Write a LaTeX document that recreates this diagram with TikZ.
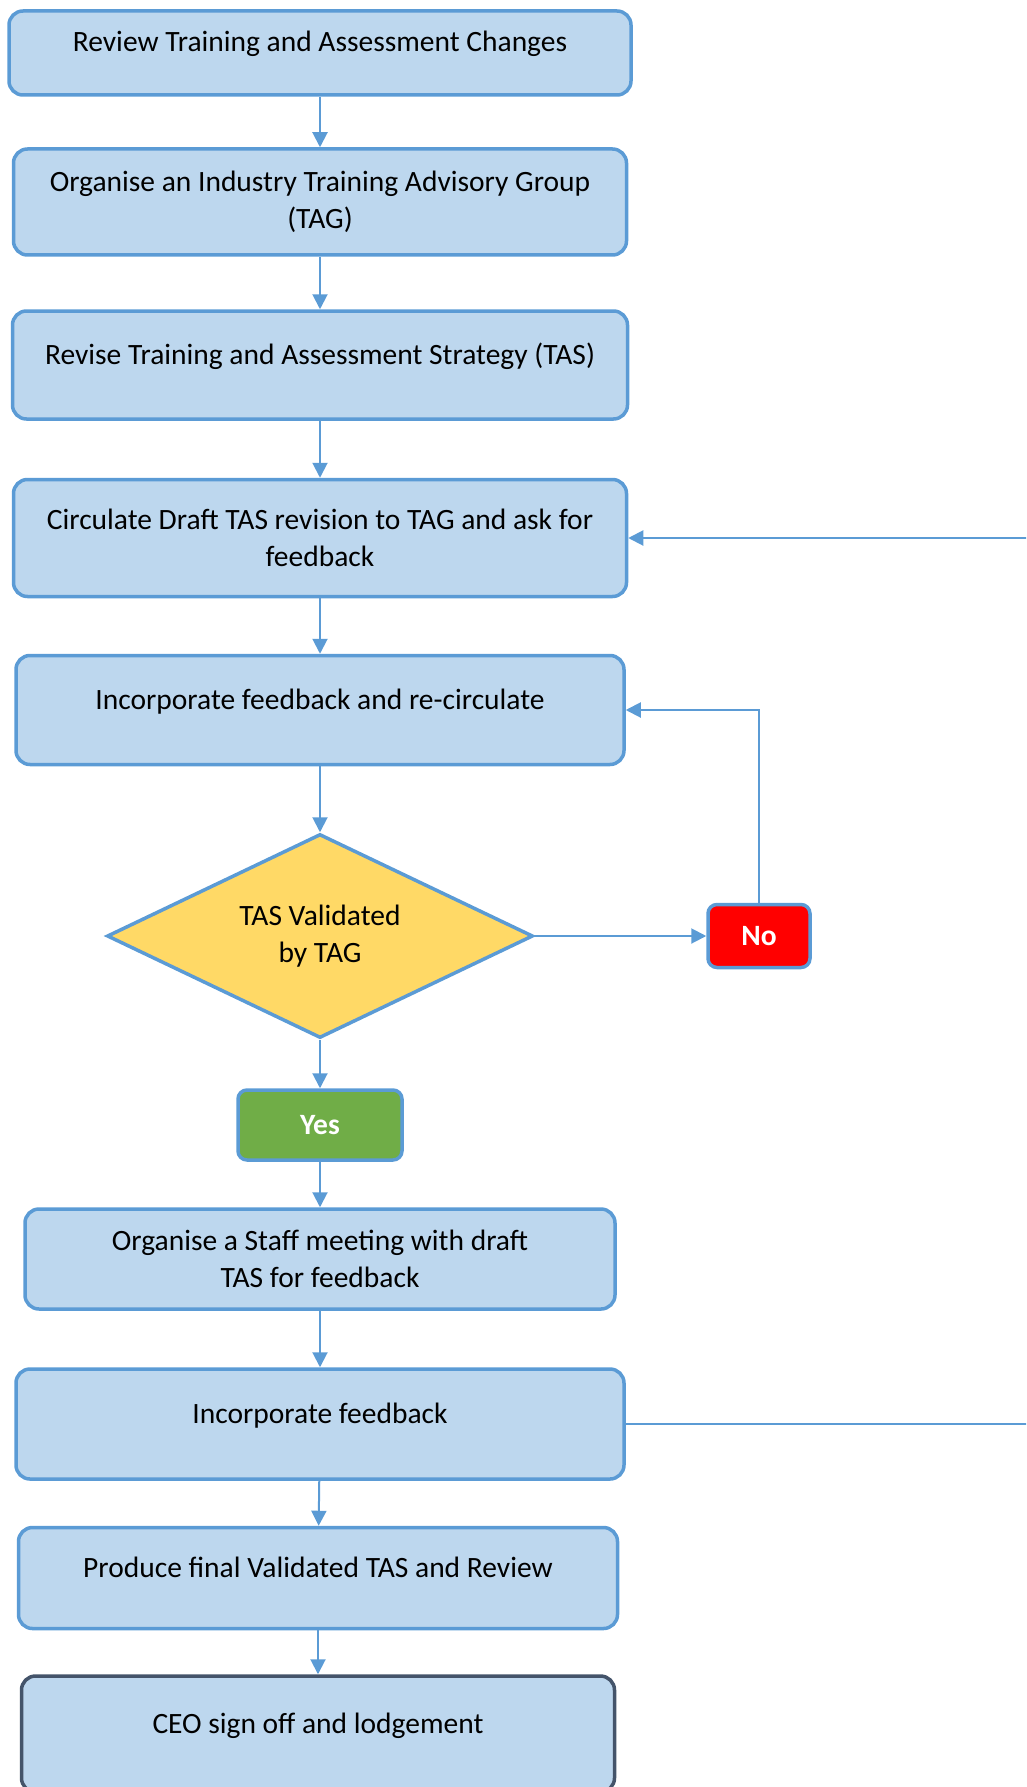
\documentclass[tikz,border=0pt]{standalone}
\usepackage{fontspec}
\setmainfont{Carlito}
\usetikzlibrary{arrows.meta,shapes.geometric}
\definecolor{boxfill}{HTML}{BDD7EE}
\definecolor{boxline}{HTML}{5B9BD5}
\definecolor{decfill}{HTML}{FFD966}
\definecolor{nofill}{HTML}{FF0000}
\definecolor{yesfill}{HTML}{70AD47}
\definecolor{endline}{HTML}{44546A}
\begin{document}
\begin{tikzpicture}[x=1pt,y=-1pt,
  txt/.style={font=\fontsize{29.5}{37}\selectfont},
  box/.style={txt, draw=boxline, fill=boxfill, line width=3.5pt,
    rounded corners=14pt, align=center, inner sep=0pt},
  oneline/.style={text height=22pt, text depth=24pt},
  decision/.style={txt, diamond, aspect=2.08, draw=boxline, fill=decfill,
    line width=3.5pt, align=center, inner sep=0pt},
  answer/.style={font=\fontsize{29.5}{37}\selectfont\bfseries, text=white,
    draw=boxline, line width=3.5pt, rounded corners=9pt, inner sep=0pt},
  arr/.style={draw=boxline, line width=2pt, -{Triangle[length=15pt,width=15pt]}},
  link/.style={draw=boxline, line width=2pt}]
\useasboundingbox (0,0) rectangle (1026,1787);
\clip (0,0) rectangle (1026,1787);

% process steps
\node[box, oneline, minimum width=622pt, minimum height=84pt] (b1) at (320,53)
  {Review Training and Assessment Changes};
\node[box, minimum width=613pt, minimum height=106pt] (b2) at (320,202)
  {Organise an Industry Training Advisory Group\\(TAG)};
\node[box, oneline, minimum width=615pt, minimum height=108pt] (b3) at (320,365)
  {Revise Training and Assessment Strategy (TAS)};
\node[box, minimum width=613pt, minimum height=117pt] (b4) at (320,538)
  {Circulate Draft TAS revision to TAG and ask for\\feedback};
\node[box, oneline, minimum width=608pt, minimum height=109pt] (b5) at (320,710)
  {Incorporate feedback and re-circulate};

% decision
\node[decision, minimum width=426pt, minimum height=204pt] (dec) at (320,936)
  {TAS Validated\\by TAG};
\node[answer, fill=nofill, minimum width=102pt, minimum height=63pt] (no) at (759,936) {No};
\node[answer, fill=yesfill, minimum width=164pt, minimum height=70pt] (yes) at (320,1125) {Yes};

% remaining steps
\node[box, minimum width=590pt, minimum height=100pt] (b6) at (320,1259)
  {Organise a Staff meeting with draft\\TAS for feedback};
\node[box, oneline, minimum width=608pt, minimum height=110pt] (b7) at (320,1424)
  {Incorporate feedback};
\node[box, oneline, minimum width=599pt, minimum height=101pt] (b8) at (318,1578)
  {Produce final Validated TAS and Review};
\node[box, oneline, draw=endline, minimum width=593pt, minimum height=116pt] (b9) at (318,1734)
  {CEO sign off and lodgement};

% main flow
\path[arr] (b1) -- (b2);
\path[arr] (b2) -- (b3);
\path[arr] (b3) -- (b4);
\path[arr] (b4) -- (b5);
\path[arr] (b5) -- (dec);
\path[arr] (dec) -- (yes);
\path[arr] (yes) -- (b6);
\path[arr] (b6) -- (b7);
\path[arr] (b7) -- (b8);
\path[arr] (b8) -- (b9);

% rejection loop
\path[arr] (dec.east) -- (no.west);
\path[arr] (no.north) |- (b5.east);

% staff feedback returned to the TAG circulation step
\coordinate (ret) at (1060,1424);
\path[arr] (b7.east) -- (ret) |- (b4.east);
\end{tikzpicture}
\end{document}
